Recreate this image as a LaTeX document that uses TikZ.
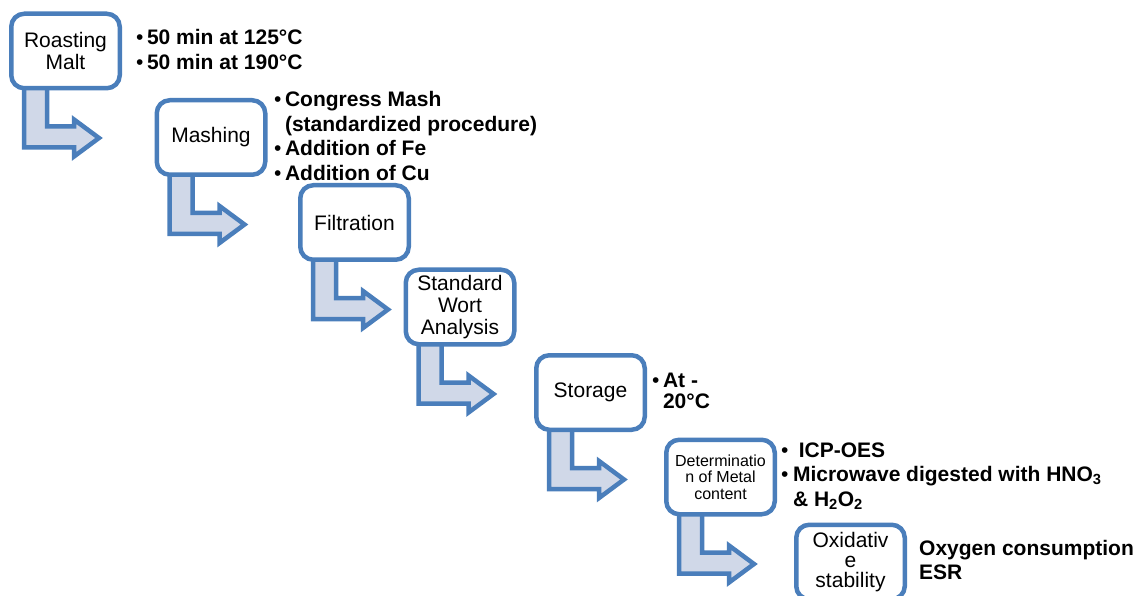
\documentclass[tikz,border=0pt]{standalone}
\usepackage{fontspec}
\setmainfont{Liberation Sans}
\usepackage{tikz}
\usetikzlibrary{calc,backgrounds}
\definecolor{stepblue}{HTML}{4A7EBB}
\definecolor{arrowfill}{HTML}{D0D8E8}
\newcommand{\blt}{{\mdseries\textbullet}}

\begin{document}
\begin{tikzpicture}[x=1pt,y=-1pt,
  box/.style={draw=stepblue,line width=4.5pt,rounded corners=13pt,fill=white,
    minimum width=108.5pt,minimum height=74.5pt,inner sep=0pt,align=center,
    font=\fontsize{21}{22}\selectfont},
  notes/.style={anchor=base west,inner sep=0pt,font=\fontsize{21}{24.5}\selectfont\bfseries},
  bent/.style={draw=stepblue,line width=4.5pt,fill=arrowfill,line join=miter}]
\useasboundingbox (0,0) rectangle (1141,596);

\node[box] (roast) at (65.5,51) {Roasting\\Malt};
\node[box] (mash) at (211,137.5) {Mashing};
\node[box] (filt) at (354.5,222.5) {Filtration};
\node[box] (wort) at (460,307) {Standard\\Wort\\Analysis};
\node[box] (store) at (590.5,392.5) {Storage};
\node[box,font=\fontsize{16}{16.5}\selectfont] (metal) at (720.5,477) {Determinatio\\n of Metal\\content};
\node[box,font=\fontsize{21}{20}\selectfont] (oxid) at (850.5,562) {Oxidativ\\e\\stability};

\begin{scope}[on background layer]
\foreach \b in {roast,mash,filt,wort,store,metal}
  \draw[bent] ($(\b.south west)+(15,-10)$) -- ++(0,67) -- ++(50,0) -- ++(0,9)
    -- ++(25,-18.5) -- ++(-25,-18.5) -- ++(0,7) -- ++(-27,0) -- ++(0,-46) -- cycle;
\end{scope}

\node[notes] (roastnotes) at (136,45) {\begin{tabular}[t]{@{}l@{\hspace{3.5pt}}l@{}}
  \blt & 50 min at 125°C\\
  \blt & 50 min at 190°C
\end{tabular}};
\node[notes] (mashnotes) at (274,107) {\begin{tabular}[t]{@{}l@{\hspace{3.5pt}}l@{}}
  \blt & Congress Mash\\
       & (standardized procedure)\\
  \blt & Addition of Fe\\
  \blt & Addition of Cu
\end{tabular}};
\node[notes,font=\fontsize{21}{21}\selectfont\bfseries] (storenotes) at (652,387) {\begin{tabular}[t]{@{}l@{\hspace{3.5pt}}l@{}}
  \blt & At -\\
       & 20°C
\end{tabular}};
\node[notes] (metalnotes) at (781,457) {\begin{tabular}[t]{@{}l@{\hspace{4.5pt}}l@{}}
  \blt & \ ICP-OES\\
  \blt & Microwave digested with HNO\textsubscript{3}\\
       & \& H\textsubscript{2}O\textsubscript{2}
\end{tabular}};
\node[notes] (oxidnotes) at (919,555) {\begin{tabular}[t]{@{}l@{}}
  Oxygen consumption\\
  ESR
\end{tabular}};
\end{tikzpicture}
\end{document}
